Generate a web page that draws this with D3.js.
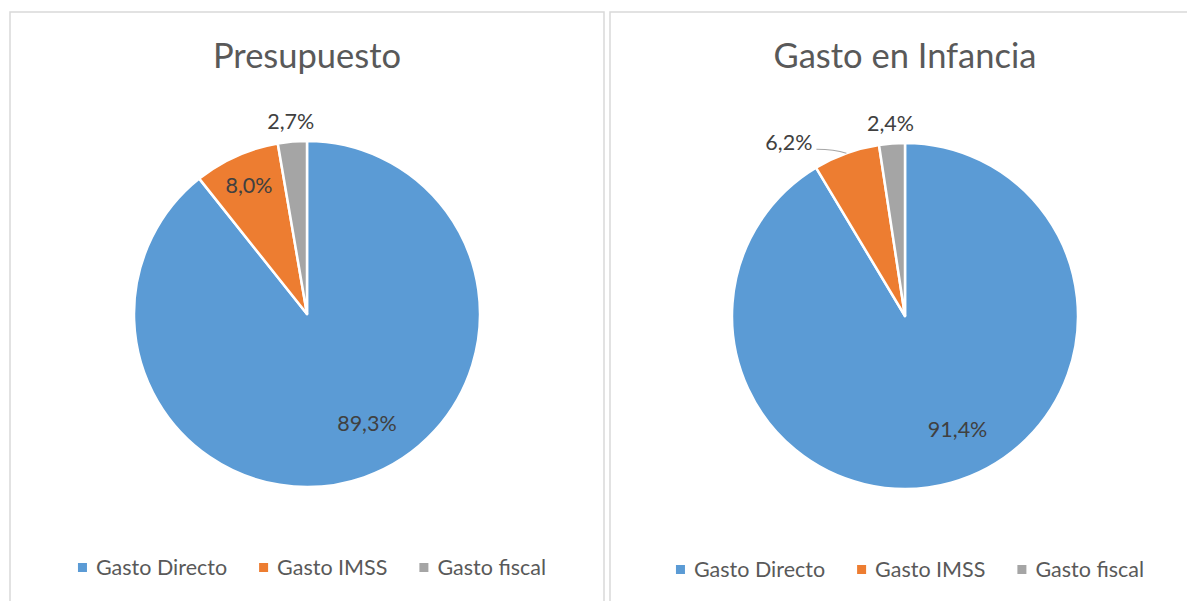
<!DOCTYPE html>
<html>
<head>
<meta charset="utf-8">
<script src="https://cdn.jsdelivr.net/npm/d3@7"></script>
<style>
  html, body { margin: 0; padding: 0; background: #fff; }
  svg { display: block; font-family: Lato, "Open Sans", sans-serif; }
</style>
</head>
<body>
<svg id="chart" width="1187" height="601"></svg>
<script>
// ---- data ----
const categories = ["Gasto Directo", "Gasto IMSS", "Gasto fiscal"];
const chartTitles = ["Presupuesto", "Gasto en Infancia"];
const presupuestoValues = [89.3, 8.0, 2.7];
const infanciaValues = [91.4, 6.2, 2.4];
const colors = ["#5B9BD5", "#ED7D31", "#A5A5A5"];

const fmt = v => d3.format(".1f")(v).replace(".", ",") + "%";

const svg = d3.select("#chart");

// panel layout
const panels = [
  { x: 10, y: 12, w: 594, h: 620, title: chartTitles[0], values: presupuestoValues, cy: 314, legendY: 575 },
  { x: 610, y: 12, w: 590, h: 620, title: chartTitles[1], values: infanciaValues, cy: 316, legendY: 577 }
];
const R = 173;

panels.forEach(p => drawPanel(p));

function drawPanel(p) {
  const g = svg.append("g");

  g.append("rect")
    .attr("x", p.x).attr("y", p.y)
    .attr("width", p.w).attr("height", p.h)
    .attr("fill", "#fff")
    .attr("stroke", "#d9d9d9")
    .attr("stroke-width", 1.5);

  const cx = p.x + p.w / 2;

  // title
  g.append("text")
    .attr("x", cx).attr("y", 68)
    .attr("text-anchor", "middle")
    .attr("fill", "#595959")
    .style("font-size", "34.5px")
    .text(p.title);

  const data = categories.map((c, i) => ({ cat: c, value: p.values[i], color: colors[i] }));

  const pie = d3.pie().value(d => d.value).sort(null);
  const arcs = pie(data);
  const arc = d3.arc().innerRadius(0).outerRadius(R);

  const pg = g.append("g").attr("transform", `translate(${cx},${p.cy})`);

  pg.selectAll("path.slice")
    .data(arcs)
    .join("path")
    .attr("class", "slice")
    .attr("d", arc)
    .attr("fill", d => d.data.color)
    .attr("stroke", "#fff")
    .attr("stroke-width", 2.5)
    .attr("stroke-linejoin", "round");

  // labels
  const labelG = pg.append("g")
    .attr("fill", "#404040")
    .style("font-size", "21.5px");

  let prevOutside = null;
  // go from last slice (near top) backwards so the gray label gets its spot first
  arcs.slice().reverse().forEach(a => {
    let mid = (a.startAngle + a.endAngle) / 2;
    const share = a.data.value;
    if (share > 50) mid -= 9.5 * Math.PI / 180; // big slice: label pulled a bit toward the right
    const sx = Math.sin(mid), sy = -Math.cos(mid);
    if (share >= 7) {
      const k = share > 50 ? 0.72 : 0.82;
      labelG.append("text")
        .attr("x", sx * R * k).attr("y", sy * R * k)
        .attr("text-anchor", "middle")
        .attr("dominant-baseline", "central")
        .text(fmt(share));
    } else {
      let lx = sx * R * 1.11, ly = sy * R * 1.11;
      if (prevOutside && Math.abs(lx - prevOutside.x) < 60) {
        // too close to neighbouring outside label -> leader line to the left
        const ax = sx * R, ay = sy * R;
        const ex = ax - 30, ey = ay - 4;
        labelG.append("path")
          .attr("d", `M${ax},${ay}Q${ax - 12},${ey}${ex},${ey}`)
          .attr("fill", "none")
          .attr("stroke", "#a6a6a6")
          .attr("stroke-width", 1.2);
        labelG.append("text")
          .attr("x", ex - 4).attr("y", ey - 7)
          .attr("text-anchor", "end")
          .attr("dominant-baseline", "central")
          .text(fmt(share));
      } else {
        labelG.append("text")
          .attr("x", lx).attr("y", ly - 2)
          .attr("text-anchor", "middle")
          .attr("dominant-baseline", "central")
          .text(fmt(share));
        prevOutside = { x: lx, y: ly };
      }
    }
  });

  // legend
  const lg = g.append("g").style("font-size", "21.5px").attr("fill", "#595959");
  let xoff = 0;
  data.forEach((d, i) => {
    const it = lg.append("g");
    it.append("rect")
      .attr("x", 0).attr("y", -12)
      .attr("width", 9).attr("height", 9)
      .attr("fill", d.color);
    const t = it.append("text").attr("x", 18).attr("y", 0).text(d.cat);
    const w = 18 + t.node().getComputedTextLength();
    it.attr("transform", `translate(${xoff},0)`);
    xoff += w + (i < data.length - 1 ? 32 : 0);
  });
  lg.attr("transform", `translate(${cx + 5 - xoff / 2},${p.legendY})`);
}
</script>
</body>
</html>
